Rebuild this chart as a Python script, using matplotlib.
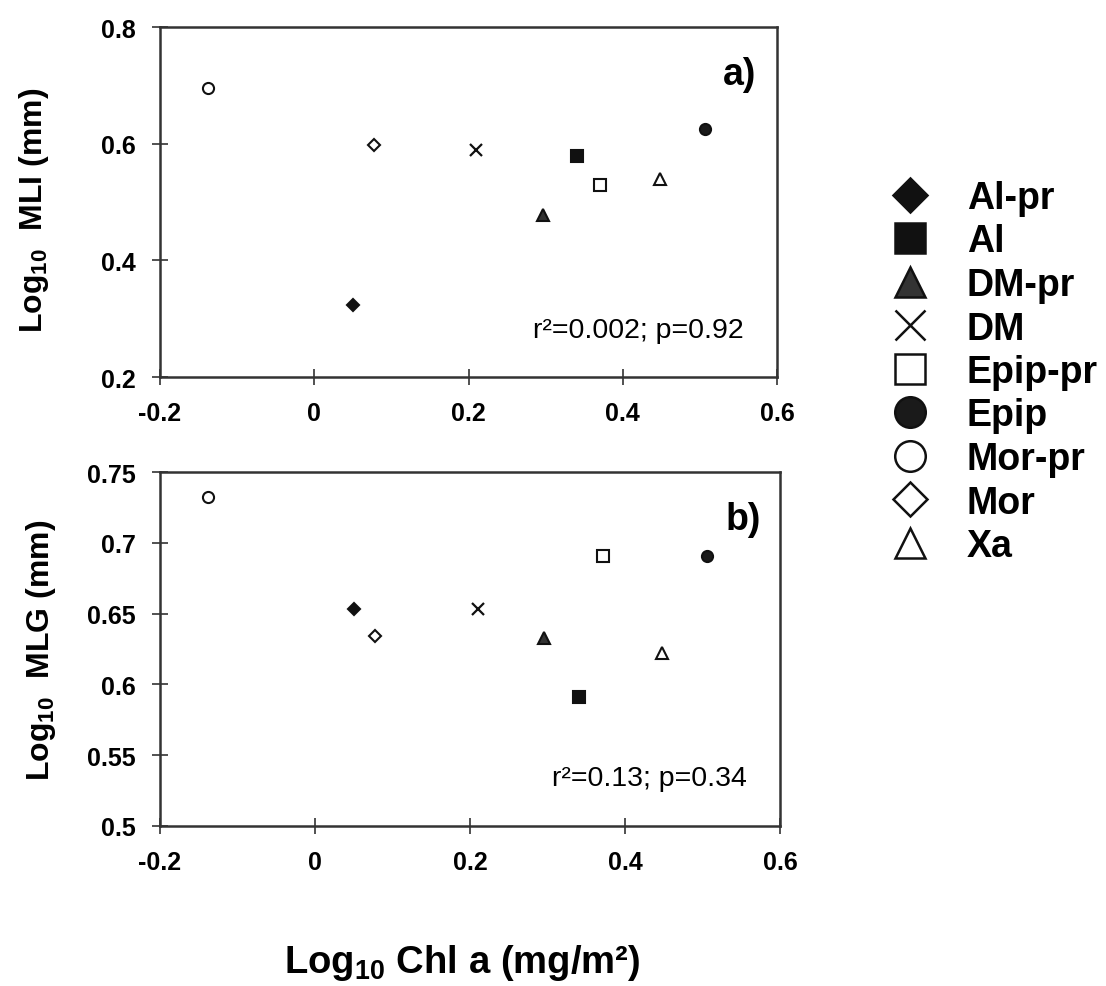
import matplotlib
matplotlib.use('Agg')
import matplotlib.pyplot as plt
from matplotlib.lines import Line2D

plt.rcParams['font.family'] = ['Liberation Sans', 'DejaVu Sans']
plt.rcParams['mathtext.fontset'] = 'custom'
plt.rcParams['mathtext.rm'] = 'Liberation Sans:bold'
plt.rcParams['mathtext.bf'] = 'Liberation Sans:bold'
plt.rcParams['mathtext.it'] = 'Liberation Sans:bold'
plt.rcParams['mathtext.default'] = 'rm'

# sites and their values
sites = ['Al-pr', 'Al', 'DM-pr', 'DM', 'Epip-pr', 'Epip', 'Mor-pr', 'Mor', 'Xa']
chl = [0.050, 0.341, 0.296, 0.210, 0.371, 0.506, -0.138, 0.078, 0.448]
mli = [0.323, 0.579, 0.478, 0.590, 0.530, 0.625, 0.695, 0.597, 0.539]
mlg = [0.653, 0.591, 0.633, 0.653, 0.691, 0.691, 0.732, 0.634, 0.622]

x_ticks = [-0.2, 0, 0.2, 0.4, 0.6]
x_ticklabels = ['-0.2', '0', '0.2', '0.4', '0.6']
mli_ticks = [0.2, 0.4, 0.6, 0.8]
mli_ticklabels = ['0.2', '0.4', '0.6', '0.8']
mlg_ticks = [0.5, 0.55, 0.6, 0.65, 0.7, 0.75]
mlg_ticklabels = ['0.5', '0.55', '0.6', '0.65', '0.7', '0.75']

# marker style for each site: (marker, facecolor)
styles = {
    'Al-pr': ('D', '#111111'),
    'Al': ('s', '#111111'),
    'DM-pr': ('^', '#333333'),
    'DM': ('x', 'none'),
    'Epip-pr': ('s', 'white'),
    'Epip': ('o', '#1a1a1a'),
    'Mor-pr': ('o', 'white'),
    'Mor': ('D', 'white'),
    'Xa': ('^', 'white'),
}

fig = plt.figure(figsize=(11.06, 9.87), dpi=100)
ax1 = fig.add_axes([160/1106, 1-378/987, 617/1106, 350/987])
ax2 = fig.add_axes([160/1106, 1-827/987, 620/1106, 354/987])

def draw(ax, yvals, yticks, yticklabels, ylim, tag, stat):
    for s, xv, yv in zip(sites, chl, yvals):
        m, fc = styles[s]
        ms = 8 if m != 'D' else 6.5
        if m == 'x':
            ax.plot(xv, yv, marker='x', ms=8, mew=1.6, color='#111111', ls='none')
        else:
            ax.plot(xv, yv, marker=m, ms=ms, mfc=fc, mec='#111111', mew=1.5, ls='none')
    ax.set_xlim(-0.2, 0.6)
    ax.set_ylim(*ylim)
    ax.set_xticks(x_ticks)
    ax.set_xticklabels(x_ticklabels, fontweight='bold', fontsize=18)
    ax.set_yticks(yticks)
    ax.set_yticklabels(yticklabels, fontweight='bold', fontsize=18)
    ax.tick_params(direction='inout', length=11, width=1.2, color='#333333', pad=12)
    for sp in ax.spines.values():
        sp.set_linewidth(1.8)
        sp.set_color('#333333')
    ax.text(0.94, 0.866, tag, transform=ax.transAxes, ha='center', va='center',
            fontsize=27, fontweight='bold')
    ax.text(0.946, 0.135, stat, transform=ax.transAxes, ha='right', va='center',
            fontsize=20.5)

draw(ax1, mli, mli_ticks, mli_ticklabels, (0.2, 0.8), 'a)', 'r²=0.002; p=0.92')
draw(ax2, mlg, mlg_ticks, mlg_ticklabels, (0.5, 0.75), 'b)', 'r²=0.13; p=0.34')

ax1.set_ylabel(r'Log$_{10}$  MLI (mm)', fontsize=23, fontweight='bold')
ax1.yaxis.set_label_coords(-0.177, 0.48)
ax2.set_ylabel(r'Log$_{10}$  MLG (mm)', fontsize=23, fontweight='bold')
ax2.yaxis.set_label_coords(-0.165, 0.5)

fig.text(462/1106, 1-963/987, r'Log$_{10}$ Chl a (mg/m²)', fontsize=27.5,
         fontweight='bold', ha='center', va='center')

# legend with large markers
handles = []
for s in sites:
    m, fc = styles[s]
    if m == 'x':
        h = Line2D([], [], marker='x', ms=22, mew=1.8, color='#111111', ls='none')
    else:
        h = Line2D([], [], marker=m, ms=22 if m != 'D' else 17, mfc=fc,
                   mec='#111111', mew=1.8, ls='none')
    handles.append(h)
fig.legend(handles, sites, loc='center left', bbox_to_anchor=(893/1106, 1-373/987),
           frameon=False, prop={'weight': 'bold', 'size': 27},
           handlelength=0.9, handletextpad=1.07, labelspacing=0.2, borderpad=0,
           borderaxespad=0)

fig.savefig('out.png', dpi=100)
